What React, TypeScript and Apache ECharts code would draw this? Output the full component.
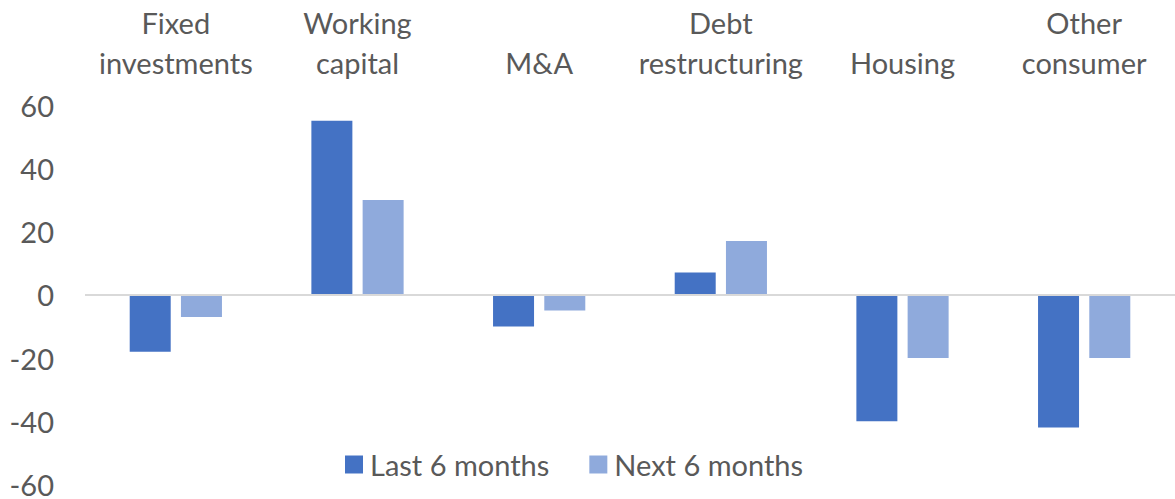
import React, { useEffect, useRef } from "react";
import * as echarts from "echarts";

const categories = ["Fixed\ninvestments", "Working\ncapital", "M&A", "Debt\nrestructuring", "Housing", "Other\nconsumer"];
const lastSixMonths = [-18, 55, -10, 7, -40, -42];
const nextSixMonths = [-7, 30, -5, 17, -20, -20];
const yTicks = { min: -60, max: 60, interval: 20 };

const FONT = "Lato";
const TEXT = "#595959";
const FS = 29;

export default function App() {
  const ref = useRef<HTMLDivElement>(null);
  useEffect(() => {
    if (!ref.current) return;
    const chart = echarts.init(ref.current, null, { renderer: "svg" });
    chart.setOption({
      animation: false,
      backgroundColor: "#ffffff",
      textStyle: { fontFamily: FONT, color: TEXT },
      grid: { left: 85, right: 0, top: 105, bottom: 10, containLabel: false },
      legend: {
        bottom: 15,
        left: 340,
        itemWidth: 18,
        itemHeight: 18,
        itemGap: 40,
        icon: "rect",
        textStyle: { fontFamily: FONT, fontSize: FS, color: TEXT, padding: [0, 0, 0, 2] },
        data: ["Last 6 months", "Next 6 months"],
      },
      xAxis: {
        type: "category",
        position: "top",
        data: categories,
        axisLine: { show: false },
        axisTick: { show: false },
        axisLabel: { fontFamily: FONT, fontSize: FS, color: TEXT, lineHeight: 40, margin: 23, interval: 0 },
      },
      yAxis: {
        type: "value",
        min: yTicks.min,
        max: yTicks.max,
        interval: yTicks.interval,
        splitLine: { show: false },
        axisLine: { show: false },
        axisTick: { show: false },
        axisLabel: { fontFamily: FONT, fontSize: FS, color: TEXT, margin: 31 },
      },
      series: [
        {
          name: "Last 6 months",
          type: "bar",
          data: lastSixMonths,
          barWidth: 41,
          barGap: "25%",
          itemStyle: { color: "#4472C4" },
          markLine: {
            silent: true,
            symbol: "none",
            label: { show: false },
            lineStyle: { color: "#D9D9D9", width: 2, type: "solid" },
            data: [{ yAxis: 0 }],
          },
          z: 3,
        },
        {
          name: "Next 6 months",
          type: "bar",
          data: nextSixMonths,
          barWidth: 41,
          barGap: "25%",
          itemStyle: { color: "#8FAADC" },
          z: 3,
        },
      ],
    });
    return () => chart.dispose();
  }, []);
  return (
    <div
      ref={ref}
      style={{ position: "fixed", left: 0, top: 0, width: 1175, height: 499 }}
    />
  );
}
